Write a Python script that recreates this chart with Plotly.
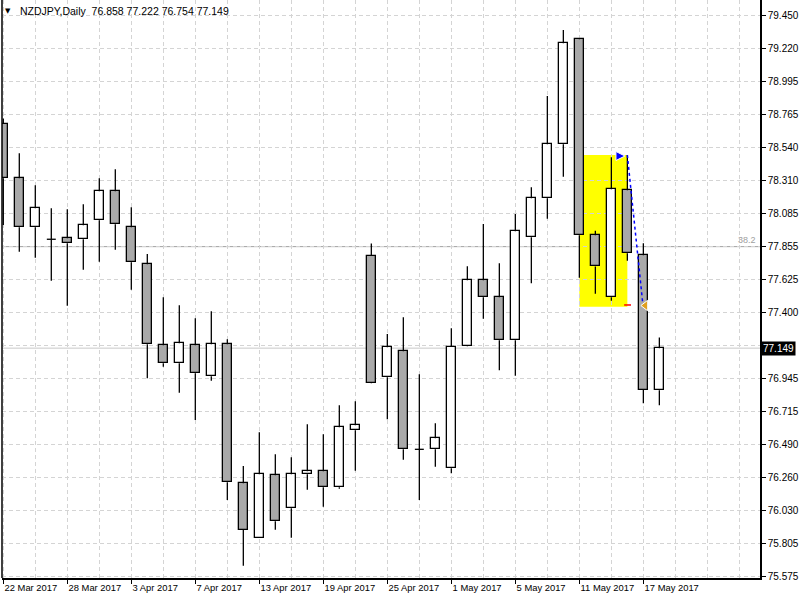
import numpy as np
import plotly.graph_objects as go

# ---------------- data ----------------
symbol_name = "NZDJPY,Daily"

date_labels = ["22 Mar 2017", "28 Mar 2017", "3 Apr 2017", "7 Apr 2017", "13 Apr 2017",
               "19 Apr 2017", "25 Apr 2017", "1 May 2017", "5 May 2017", "11 May 2017",
               "17 May 2017"]
date_label_bars = [0, 4, 8, 12, 16, 20, 24, 28, 32, 36, 40]

# the 77.170 level is hidden behind the current-price box in the reference
price_labels = ["79.450", "79.220", "78.995", "78.765", "78.540", "78.310", "78.085",
                "77.855", "77.625", "77.400", "", "76.945", "76.715", "76.490",
                "76.260", "76.030", "75.805", "75.575"]

opens = [78.697, 78.322, 77.984, 77.901, 77.908, 77.901, 78.032, 78.232, 77.984, 77.728,
         77.169, 77.044, 77.169, 76.954, 77.175, 76.215, 75.835, 76.271, 76.043, 76.277,
         76.298, 76.188, 76.581, 77.785, 76.947, 77.127, 76.450, 76.450, 76.319, 77.162,
         77.617, 77.500, 77.203, 77.915, 78.184, 78.557, 79.282, 77.928, 77.500, 78.239,
         77.790, 76.858]
highs = [78.735, 78.495, 78.274, 78.115, 78.108, 78.142, 78.322, 78.384, 78.122, 77.799,
         77.500, 77.445, 77.355, 77.403, 77.210, 76.335, 76.568, 76.416, 76.395, 76.623,
         76.554, 76.754, 76.782, 77.872, 77.247, 77.362, 76.968, 76.630, 77.286, 77.714,
         78.006, 77.735, 78.075, 78.260, 78.891, 79.346, 79.284, 77.960, 78.467, 78.483,
         77.873, 77.222]
lows = [77.999, 77.815, 77.774, 77.615, 77.442, 77.691, 77.746, 77.829, 77.553, 76.941,
        77.021, 76.841, 76.653, 76.924, 76.100, 75.646, 75.835, 75.895, 75.840, 76.171,
        76.054, 76.178, 76.302, 76.904, 76.657, 76.378, 76.100, 76.330, 76.284, 77.160,
        77.352, 76.996, 76.959, 77.597, 78.043, 78.333, 77.635, 77.525, 77.477, 77.753,
        76.768, 76.754]
closes = [78.322, 77.984, 78.115, 77.901, 77.873, 77.997, 78.232, 78.004, 77.742, 77.175,
          77.044, 77.182, 76.975, 77.175, 76.222, 75.893, 76.277, 75.953, 76.277, 76.298,
          76.188, 76.602, 76.616, 76.906, 77.155, 76.450, 76.450, 76.526, 77.160, 77.617,
          77.500, 77.203, 77.956, 78.184, 78.557, 79.255, 77.928, 77.713, 78.246, 77.804,
          76.860, 77.149]

fib_level = 77.850
fib_label = "38.2"
box_bars = [36, 39]
box_prices = [77.435, 78.483]
trade_open_bar, trade_open_price = 38.85, 78.476
trade_line_bars = [39.0, 39.96]
trade_line_prices = [78.483, 77.461]
trade_close_bar, trade_close_price = 40.125, 77.443
stop_bars = [38.8, 39.23]
stop_prices = [77.447, 77.447]

# ---------------- figure ----------------
n = len(opens)
idx = list(range(n))
BODY_W = 0.56

up = [i for i in idx if closes[i] > opens[i]]
dn = [i for i in idx if closes[i] < opens[i]]
dj = [i for i in idx if closes[i] == opens[i]]

fig = go.Figure()

for sel, fill in ((dn, "#a9a9a9"), (up, "#ffffff")):
    fig.add_trace(go.Bar(
        x=sel,
        y=[abs(closes[i] - opens[i]) for i in sel],
        base=[min(opens[i], closes[i]) for i in sel],
        width=BODY_W,
        marker=dict(color=fill, line=dict(color="black", width=1.3)),
        hoverinfo="skip",
    ))

wx, wy = [], []
for i in idx:
    top = max(opens[i], closes[i])
    bot = min(opens[i], closes[i])
    wx += [i, i, None, i, i, None]
    wy += [top, highs[i], None, lows[i], bot, None]
fig.add_trace(go.Scatter(x=wx, y=wy, mode="lines",
                         line=dict(color="black", width=1.3), hoverinfo="skip"))

dx, dy = [], []
for i in dj:
    dx += [i - BODY_W / 2, i + BODY_W / 2, None]
    dy += [opens[i], opens[i], None]
fig.add_trace(go.Scatter(x=dx, y=dy, mode="lines",
                         line=dict(color="black", width=1.3), hoverinfo="skip"))

# trade objects
fig.add_trace(go.Scatter(x=trade_line_bars, y=trade_line_prices, mode="lines",
                         line=dict(color="#0000ff", width=1.5, dash="3px,3px"),
                         hoverinfo="skip"))
fig.add_trace(go.Scatter(x=stop_bars, y=stop_prices, mode="lines",
                         line=dict(color="#ff0000", width=1.5), hoverinfo="skip"))
fig.add_trace(go.Scatter(x=[trade_open_bar], y=[trade_open_price], mode="markers",
                         marker=dict(symbol="arrow-right", size=9, color="#0000ff",
                                     line=dict(color="white", width=1)),
                         hoverinfo="skip"))
fig.add_trace(go.Scatter(x=[trade_close_bar], y=[trade_close_price], mode="markers",
                         marker=dict(symbol="triangle-left", size=9, color="#e0a020",
                                     line=dict(color="white", width=1)),
                         hoverinfo="skip"))

# shapes
fig.add_shape(type="rect", xref="x", yref="y", x0=box_bars[0], x1=box_bars[1],
              y0=box_prices[0], y1=box_prices[1], fillcolor="#ffff00",
              line=dict(width=0), layer="below")
fig.add_shape(type="line", xref="x domain", yref="y", x0=0, x1=1,
              y0=fib_level, y1=fib_level, line=dict(color="#a0a0a0", width=1),
              layer="below")
fig.add_shape(type="line", xref="x domain", yref="y", x0=0, x1=1,
              y0=closes[-1], y1=closes[-1], line=dict(color="#c8c8c8", width=1),
              layer="below")
fig.add_shape(type="line", xref="x domain", yref="y domain", x0=0, x1=0,
              y0=0, y1=1, line=dict(color="black", width=1.5), layer="above")

# annotations
fig.add_annotation(xref="x domain", yref="y", x=1, y=fib_level, xanchor="right",
                   yanchor="bottom", xshift=-2, text=fib_label, showarrow=False,
                   font=dict(color="#a0a0a0", size=9))
fig.add_annotation(xref="paper", yref="y", x=1, y=closes[-1], xanchor="left",
                   yanchor="middle", xshift=1, text=f"{closes[-1]:.3f}",
                   showarrow=False, bgcolor="black", borderpad=1,
                   font=dict(color="white", size=10))
fig.add_annotation(xref="paper", yref="paper", x=0, y=1, xanchor="center",
                   yanchor="middle", xshift=6, yshift=-11, text="▼", showarrow=False,
                   font=dict(color="black", size=7, family="DejaVu Sans"))
title = (f"{symbol_name}  {opens[-1]:.3f} {highs[-1]:.3f} "
         f"{lows[-1]:.3f} {closes[-1]:.3f}")
fig.add_annotation(xref="paper", yref="paper", x=0, y=1, xanchor="left",
                   yanchor="middle", xshift=16, yshift=-11, text=title,
                   showarrow=False, font=dict(color="black", size=10.5))

grid = dict(showgrid=True, gridcolor="#d4d4d4", gridwidth=1, griddash="4px,3px")
minor_bars = [b for b in range(2, 48, 2) if b not in date_label_bars]

fig.update_layout(
    template="none",
    width=800, height=600,
    margin=dict(l=2, r=40, t=0, b=22, pad=0),
    paper_bgcolor="white", plot_bgcolor="white",
    showlegend=False, barmode="overlay", bargap=0,
    font=dict(family="Liberation Sans", size=10, color="black"),
    xaxis=dict(
        range=[-0.081, 47.29], tickvals=date_label_bars, ticktext=date_labels,
        tickangle=0,
        ticks="outside", ticklen=4, tickcolor="black", tickwidth=1,
        ticklabelposition="outside right", tickfont=dict(size=9.4),
        showline=True, linecolor="black", linewidth=1.5, zeroline=False,
        automargin=False, fixedrange=True,
        minor=dict(tickvals=minor_bars, ticks="", **grid),
        **grid,
    ),
    yaxis=dict(
        side="right", range=[75.5612, 79.5536],
        tickvals=list(np.linspace(79.450, 75.575, len(price_labels))),
        ticktext=price_labels, ticks="outside", ticklen=4, tickcolor="black",
        tickwidth=1, tickfont=dict(size=10),
        showline=True, linecolor="black", linewidth=1.5, zeroline=False,
        automargin=False, fixedrange=True,
        **grid,
    ),
)

fig.write_html("out.html")
